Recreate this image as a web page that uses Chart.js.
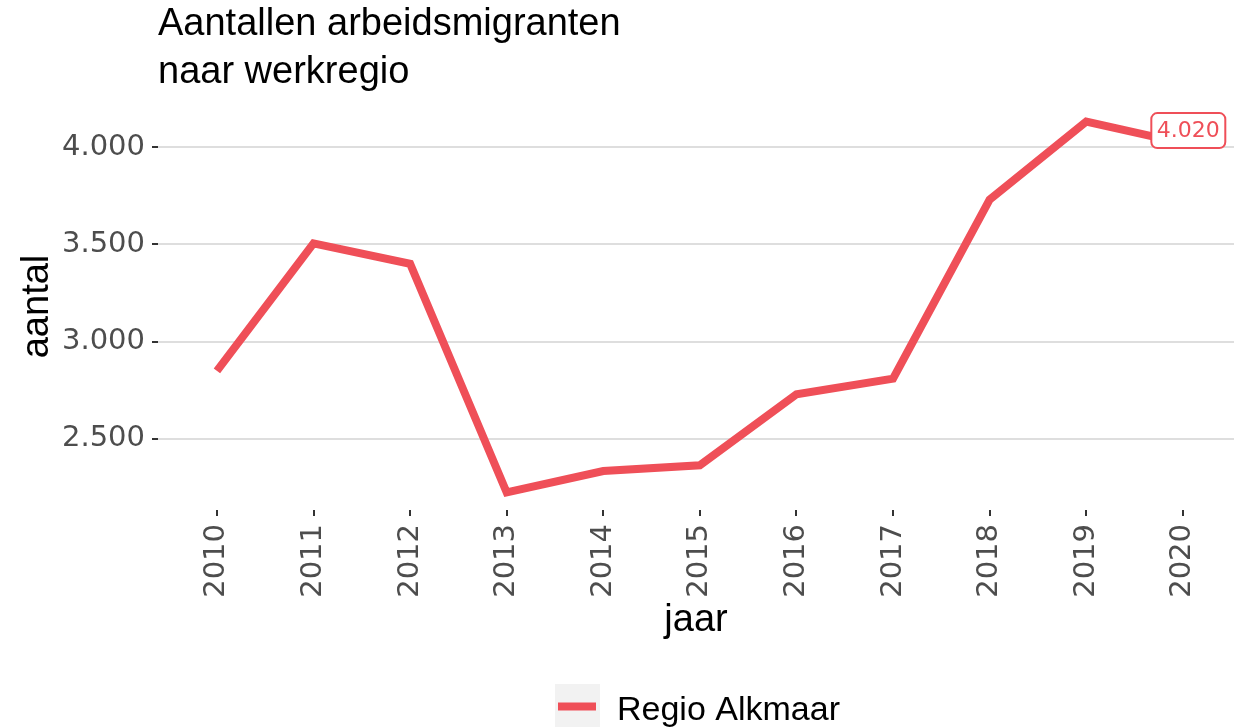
<!DOCTYPE html>
<html>
<head>
<meta charset="utf-8">
<script src="https://cdn.jsdelivr.net/npm/chart.js@4.4.1/dist/chart.umd.min.js"></script>
<style>
html, body { margin: 0; padding: 0; background: #fff; }
#wrap { width: 1234px; height: 727px; position: relative; }
</style>
</head>
<body>
<div id="wrap"><canvas id="myChart"></canvas></div>
<script>
// data
var jaren = [2010, 2011, 2012, 2013, 2014, 2015, 2016, 2017, 2018, 2019, 2020];
var aantallen = [2850, 3505, 3400, 2225, 2335, 2365, 2730, 2810, 3730, 4130, 4020];
var serieNaam = 'Regio Alkmaar';
var yTicks = [2500, 3000, 3500, 4000];
var titelRegels = ['Aantallen arbeidsmigranten', 'naar werkregio'];
var lijnKleur = '#EF4F58';

function puntGetal(v) {
	// 4000 -> "4.000"
	return String(Math.round(v)).replace(/\B(?=(\d{3})+(?!\d))/g, '.');
}

// title, legend and end label, drawn on top of the chart
var extraPlugin = {
	id: 'extraPlugin',
	afterDraw: function(chart) {
		var ctx = chart.ctx;
		var area = chart.chartArea;
		ctx.save();

		// title
		ctx.fillStyle = '#000';
		ctx.font = '38px "Liberation Sans"';
		ctx.textAlign = 'left';
		ctx.textBaseline = 'alphabetic';
		for (var i = 0; i < titelRegels.length; i++) {
			ctx.fillText(titelRegels[i], area.left, 35 + i * 48);
		}

		// legend
		var ds = chart.data.datasets[0];
		ctx.fillStyle = '#F2F2F2';
		ctx.fillRect(555, 684, 45, 43);
		ctx.strokeStyle = ds.borderColor;
		ctx.lineWidth = 8;
		ctx.beginPath();
		ctx.moveTo(558, 706.5);
		ctx.lineTo(596, 706.5);
		ctx.stroke();
		ctx.fillStyle = '#000';
		ctx.font = '34px "Liberation Sans"';
		ctx.fillText(ds.label, 617, 720);

		// label at the last point
		var xs = chart.scales.x, ys = chart.scales.y;
		var n = jaren.length - 1;
		var px = xs.getPixelForValue(jaren[n]) + 5.5;
		var py = ys.getPixelForValue(aantallen[n]) - 12.5;
		var tekst = puntGetal(aantallen[n]);
		ctx.font = '22px "DejaVu Sans"';
		var w = ctx.measureText(tekst).width + 11;
		var h = 35;
		ctx.fillStyle = '#fff';
		ctx.strokeStyle = lijnKleur;
		ctx.lineWidth = 2;
		ctx.beginPath();
		ctx.roundRect(px - w / 2, py - h / 2, w, h, 6);
		ctx.fill();
		ctx.stroke();
		ctx.fillStyle = lijnKleur;
		ctx.textAlign = 'center';
		ctx.textBaseline = 'middle';
		ctx.fillText(tekst, px, py + 1);

		ctx.restore();
	}
};

window.onload = function() {
	var ctx = document.getElementById('myChart').getContext('2d');
	var punten = jaren.map(function(j, i) { return {x: j, y: aantallen[i]}; });
	var myChart = new Chart(ctx, {
		type: 'line',
		data: {
			datasets: [{
				label: serieNaam,
				data: punten,
				borderColor: lijnKleur,
				backgroundColor: lijnKleur,
				borderWidth: 8,
				pointRadius: 0,
				tension: 0,
				fill: false
			}]
		},
		plugins: [extraPlugin],
		options: {
			responsive: true,
			maintainAspectRatio: false,
			animation: false,
			devicePixelRatio: 1,
			layout: { padding: { top: 103, left: 0, right: 0, bottom: 82 } },
			plugins: {
				legend: { display: false },
				tooltip: { enabled: false },
				title: { display: false }
			},
			scales: {
				x: {
					type: 'linear',
					min: 2009.39,
					max: 2020.53,
					afterBuildTicks: function(s) { s.ticks = jaren.map(function(v) { return {value: v}; }); },
					afterFit: function(s) { s.height = 135; },
					border: { display: false },
					grid: { drawOnChartArea: false, tickLength: 6, tickColor: '#333', lineWidth: 2 },
					ticks: {
						minRotation: 90, maxRotation: 90,
						padding: 8,
						color: '#4D4D4D',
						font: { family: 'DejaVu Sans', size: 29 },
						callback: function(v) { return String(v); }
					},
					title: {
						display: true, text: 'jaar', color: '#000',
						font: { family: 'Liberation Sans', size: 38 },
						padding: { top: 0, bottom: 2 }
					}
				},
				y: {
					min: 2135,
					max: 4226,
					afterBuildTicks: function(s) { s.ticks = yTicks.map(function(v) { return {value: v}; }); },
					afterFit: function(s) { s.width = 158; },
					border: { display: false },
					grid: { color: '#DEDEDE', lineWidth: 2, tickLength: 6, tickColor: '#333' },
					ticks: {
						padding: 7,
						color: '#4D4D4D',
						font: { family: 'DejaVu Sans', size: 29 },
						callback: function(v) { return puntGetal(v); }
					},
					title: {
						display: true, text: 'aantal', color: '#000',
						font: { family: 'Liberation Sans', size: 38 },
						padding: { top: 15, bottom: 0 }
					}
				}
			}
		}
	});
}; //end window.onload
</script>
</body>
</html>
